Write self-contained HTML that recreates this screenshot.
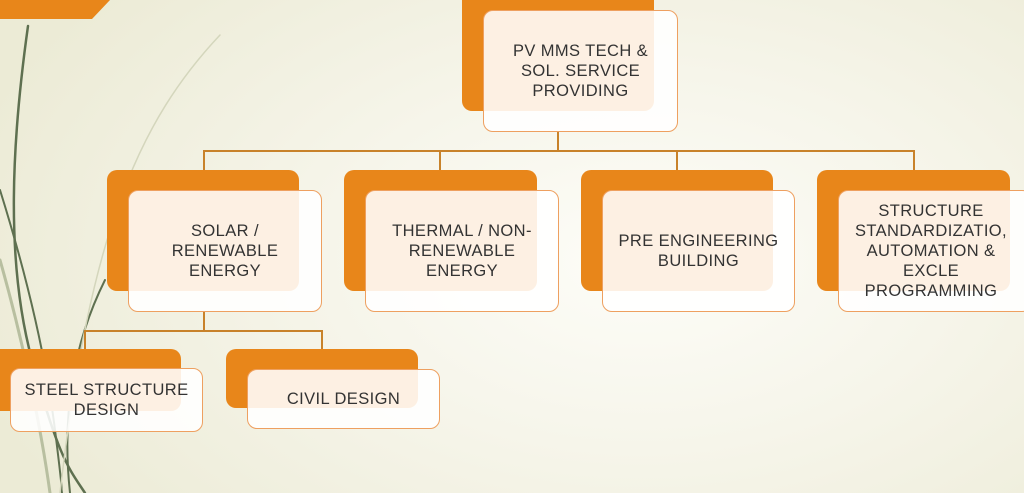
<!DOCTYPE html>
<html><head><meta charset="utf-8"><style>
*{margin:0;padding:0;box-sizing:border-box}
body{width:1024px;height:493px;overflow:hidden;position:relative;font-family:"Liberation Sans",sans-serif;
background:radial-gradient(ellipse 700px 420px at 640px 260px,#fdfdf8 0%,#f6f5ea 45%,#ecebd6 100%);}
.b{position:absolute;background:#e8861a;border-radius:10px}
.f{position:absolute;background:rgba(255,255,255,0.88);border:1.5px solid #eea060;border-radius:10px;display:flex;align-items:center;justify-content:center;text-align:center;color:#333;font-size:16.5px;line-height:20px;letter-spacing:0.4px}
.l{position:absolute;background:#c8822a}
svg{position:absolute;left:0;top:0}
</style></head><body>
<svg width="1024" height="493">
<polygon points="0,0 110,0 92,19 0,19" fill="#e8861a"/>
<g fill="none" stroke-linecap="round">
<path d="M28,26 C12,140 5,260 32,360 S70,470 85,493" stroke="#5e7050" stroke-width="2.5"/>
<path d="M0,190 C25,270 45,350 55,430 S60,480 62,493" stroke="#5e7050" stroke-width="2"/>
<path d="M105,280 C80,330 60,400 70,493" stroke="#5e7050" stroke-width="2"/>
<path d="M0,260 C20,330 40,420 50,493" stroke="#b8bfa0" stroke-width="3"/>
<path d="M220,35 C140,120 90,230 60,493" stroke="#d4d6bc" stroke-width="1.5"/>
</g>
</svg>
<div class="l" style="left:557px;top:132px;width:2px;height:20px"></div>
<div class="l" style="left:203px;top:150px;width:712px;height:2px"></div>
<div class="l" style="left:203px;top:150px;width:2px;height:21px"></div>
<div class="l" style="left:439px;top:150px;width:2px;height:21px"></div>
<div class="l" style="left:676px;top:150px;width:2px;height:21px"></div>
<div class="l" style="left:913px;top:150px;width:2px;height:21px"></div>
<div class="l" style="left:203px;top:312px;width:2px;height:20px"></div>
<div class="l" style="left:84px;top:330px;width:239px;height:2px"></div>
<div class="l" style="left:84px;top:330px;width:2px;height:19px"></div>
<div class="l" style="left:321px;top:330px;width:2px;height:19px"></div>

<div class="b" style="left:462px;top:-12px;width:192px;height:123px"></div>
<div class="f" style="left:483px;top:10px;width:195px;height:122px">PV MMS TECH &amp;<br>SOL. SERVICE<br>PROVIDING</div>

<div class="b" style="left:107px;top:170px;width:192px;height:121px"></div>
<div class="f" style="left:128px;top:190px;width:194px;height:122px">SOLAR /<br>RENEWABLE<br>ENERGY</div>
<div class="b" style="left:344px;top:170px;width:193px;height:121px"></div>
<div class="f" style="left:365px;top:190px;width:194px;height:122px">THERMAL / NON-<br>RENEWABLE<br>ENERGY</div>
<div class="b" style="left:581px;top:170px;width:192px;height:121px"></div>
<div class="f" style="left:602px;top:190px;width:193px;height:122px">PRE ENGINEERING<br>BUILDING</div>
<div class="b" style="left:817px;top:170px;width:193px;height:121px"></div>
<div class="f" style="left:838px;top:190px;width:194px;height:122px;justify-content:flex-start;padding-left:0"><div style="width:184px;text-align:center">STRUCTURE<br>STANDARDIZATIO,<br>AUTOMATION &amp;<br>EXCLE<br>PROGRAMMING</div></div>

<div class="b" style="left:-10px;top:349px;width:191px;height:62px"></div>
<div class="f" style="left:10px;top:368px;width:193px;height:64px">STEEL STRUCTURE<br>DESIGN</div>
<div class="b" style="left:226px;top:349px;width:192px;height:59px"></div>
<div class="f" style="left:247px;top:369px;width:193px;height:60px">CIVIL DESIGN</div>
</body></html>
